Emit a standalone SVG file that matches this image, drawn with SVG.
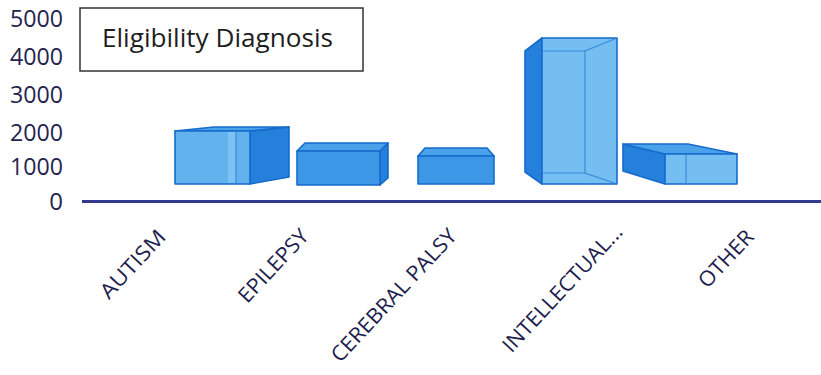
<svg xmlns="http://www.w3.org/2000/svg" width="821" height="375" viewBox="0 0 821 375">
<style>
.ylab{font-family:"Open Sans","Liberation Sans",sans-serif;font-size:24px;fill:#25244e;text-anchor:end}
.xlab{font-family:"Open Sans","Liberation Sans",sans-serif;font-size:21px;fill:#1f1f4e;text-anchor:end}
.title{font-family:"Open Sans","Liberation Sans",sans-serif;font-size:25px;fill:#1e1e1e}
.e{stroke:#166bcc;stroke-width:1.6;stroke-linejoin:round}
.front{fill:#62b2ee}
.light{fill:#74bef2}
.mid{fill:#3c98e6}
.top{fill:#4aa2ea}
.dark{fill:#2480da}
.inner{stroke:#2a7fd6;stroke-width:1.2;fill:none;opacity:0.8}
</style>
<rect width="821" height="375" fill="#ffffff"/>

<g id="y-axis">
<text class="ylab" x="63" y="27" textLength="53" lengthAdjust="spacingAndGlyphs">5000</text>
<text class="ylab" x="63" y="65" textLength="53" lengthAdjust="spacingAndGlyphs">4000</text>
<text class="ylab" x="63" y="103" textLength="53" lengthAdjust="spacingAndGlyphs">3000</text>
<text class="ylab" x="63" y="141" textLength="53" lengthAdjust="spacingAndGlyphs">2000</text>
<text class="ylab" x="63" y="175" textLength="53" lengthAdjust="spacingAndGlyphs">1000</text>
<text class="ylab" x="63" y="210">0</text>
</g>

<g id="legend">
<rect x="80" y="8" width="283" height="63" fill="#ffffff" stroke="#333333" stroke-width="1.5"/>
<text class="title" x="102" y="47" textLength="231" lengthAdjust="spacingAndGlyphs">Eligibility Diagnosis</text>
</g>

<g id="bar-autism">
<polygon class="dark e" points="250,131 289,127 289,177 250,184"/>
<polygon class="top e" points="175,131 214,127 289,127 250,131"/>
<rect class="front e" x="175" y="131" width="75" height="53"/>
<rect x="228" y="132" width="8" height="51" fill="#7cc2f4"/>
<line class="inner" x1="236" y1="131" x2="236" y2="184"/>
</g>

<g id="bar-epilepsy">
<polygon class="dark e" points="380,151 388,143 388,178 380,185"/>
<polygon class="top e" points="297,151 305,143 388,143 380,151"/>
<rect class="mid e" x="297" y="151" width="83" height="34"/>
</g>

<g id="bar-cerebral-palsy">
<polygon class="top e" points="418,156 425,148 487,148 494,156"/>
<rect class="mid e" x="418" y="156" width="76" height="28"/>
</g>

<g id="bar-intellectual">
<polygon class="dark e" points="525,51 542,38 542,184 525,172"/>
<rect class="light e" x="542" y="38" width="75" height="146"/>
<polyline class="inner" points="617,38 585,51 585,173 617,184"/>
<line class="inner" x1="542" y1="51" x2="585" y2="51"/>
<line class="inner" x1="542" y1="173" x2="585" y2="173"/>
</g>

<g id="bar-other">
<polygon class="dark e" points="623,144 665,154 665,184 623,171"/>
<polygon class="top e" points="623,144 688,144 737,154 665,154"/>
<rect class="light e" x="665" y="154" width="72" height="30"/>
<line class="inner" x1="686" y1="154" x2="686" y2="184"/>
</g>

<g id="axis">
<line x1="82" y1="201.5" x2="821" y2="201.5" stroke="#33398c" stroke-width="3"/>
</g>

<g id="x-labels">
<text class="xlab" transform="translate(167,238) rotate(-47)" textLength="85" lengthAdjust="spacingAndGlyphs">AUTISM</text>
<text class="xlab" transform="translate(310,237) rotate(-47)" textLength="92" lengthAdjust="spacingAndGlyphs">EPILEPSY</text>
<text class="xlab" transform="translate(458,237) rotate(-47)" textLength="173" lengthAdjust="spacingAndGlyphs">CEREBRAL PALSY</text>
<text class="xlab" transform="translate(624,233) rotate(-47)" textLength="165" lengthAdjust="spacingAndGlyphs">INTELLECTUAL...</text>
<text class="xlab" transform="translate(755,238) rotate(-47)" textLength="70" lengthAdjust="spacingAndGlyphs">OTHER</text>
</g>
</svg>
